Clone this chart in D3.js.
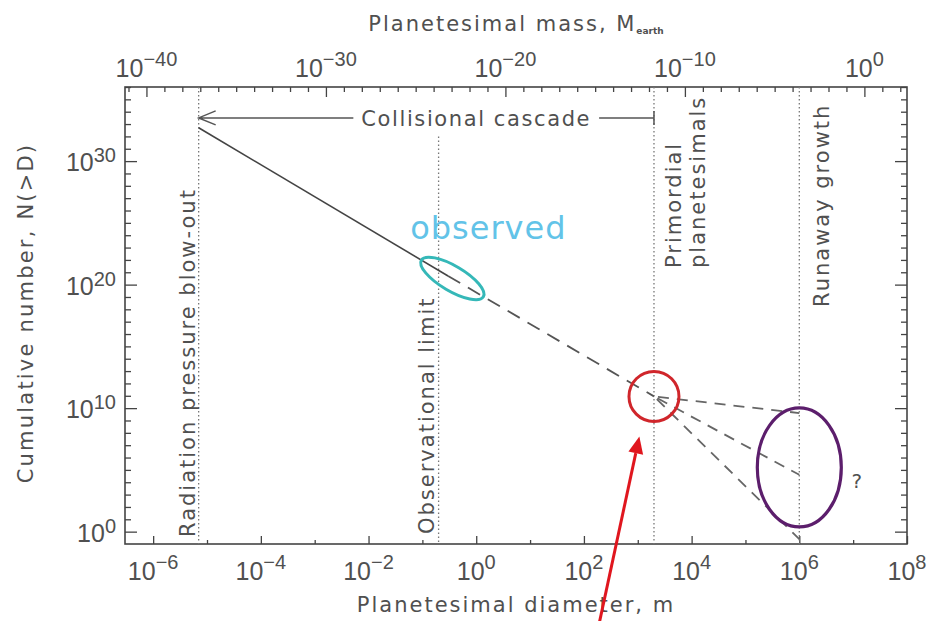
<!DOCTYPE html>
<html>
<head>
<meta charset="utf-8">
<script src="https://cdn.jsdelivr.net/npm/d3@7"></script>
<style>
  body { margin: 0; background: #fff; }
  text { font-family: "DejaVu Sans", sans-serif; fill: #505050; }
  .num { font-family: "Liberation Sans", Arial, sans-serif; }
</style>
</head>
<body>
<svg id="chart" width="930" height="621"></svg>
<script>
// ---- axis ranges and ticks ----
const diameterDomain = [3e-7, 1e8];          // m
const numberDomain = [1e-1, 1e36];           // N(>D)
const diameterMajorTicks = [1e-6, 1e-4, 1e-2, 1e0, 1e2, 1e4, 1e6, 1e8];
const diameterTickLabels = ["\u22126", "\u22124", "\u22122", "0", "2", "4", "6", "8"];
const diameterMinorTicks = [1e-5, 1e-3, 1e-1, 1e1, 1e3, 1e5, 1e7];
const numberMajorTicks = [1e0, 1e10, 1e20, 1e30];
const numberTickLabels = ["0", "10", "20", "30"];
const massMajorExponents = [-40, -30, -20, -10, 0];
const massTickLabels = ["\u221240", "\u221230", "\u221220", "\u221210", "0"];

// mass of a sphere of diameter D, in Earth masses
const planetesimalDensity = 2700;   // kg m^-3
const earthMass = 5.972e24;         // kg
const massOf = D => planetesimalDensity * Math.PI * D ** 3 / 6 / earthMass;

// ---- size distribution ----
const cascadeDiameters = [7e-6, 0.3, 2000];
const cascadeNumbers = [10 ** 32.7, 10 ** 20.7, 10 ** 10.95];
const branchDiameters = [1e6, 1e6, 1e6];
const branchNumbers = [10 ** 9.6, 10 ** 4.6, 10 ** -0.6];

// ---- characteristic sizes ----
const boundaryNames = [["Radiation pressure blow-out"], ["Observational limit"],
                       ["Primordial", "planetesimals"], ["Runaway growth"]];
const boundaryDiameters = [7e-6, 0.2, 2000, 1e6];
const boundaryTopNumbers = [1e36, 1e32, 1e36, 1e36];

// ---- annotations ----
const observedCenter = [0.36, 10 ** 20.5];
const runawayCenter = [1e6, 10 ** 5.2];
const questionPoint = [10 ** 7.07, 10 ** 3.5];
const arrowTail = [195, 10 ** -7.3];
const arrowTip = [1070, 10 ** 7.7];
const cascadeLabelDiameter = 1;
const cascadeLabelNumber = 10 ** 33.5;

const svg = d3.select("#chart");
const L = 125, R = 907, T = 87, B = 544;

const x = d3.scaleLog().domain(diameterDomain).range([L, R]);
const y = d3.scaleLog().domain(numberDomain).range([B, T]);
const xm = d3.scaleLog().domain(diameterDomain.map(massOf)).range([L, R]);

const axisColor = "#444";

function styleAxis(g) {
  g.select(".domain").remove();
  g.selectAll(".tick line").attr("stroke", axisColor).attr("stroke-width", 1.3);
  g.selectAll(".tick text").remove();
}

// bottom axis (diameter)
svg.append("g").attr("transform", `translate(0,${B})`)
  .call(d3.axisBottom(x).tickValues(diameterMajorTicks).tickSize(-8)).call(styleAxis);
svg.append("g").attr("transform", `translate(0,${B})`)
  .call(d3.axisBottom(x).tickValues(diameterMinorTicks).tickSize(-4)).call(styleAxis);

// top axis (mass)
const massMinor = d3.range(-41, 3).filter(e => e % 10 !== 0).map(e => 10 ** e);
svg.append("g").attr("transform", `translate(0,${T})`)
  .call(d3.axisTop(xm).tickValues(massMajorExponents.map(e => 10 ** e)).tickSize(-10)).call(styleAxis);
svg.append("g").attr("transform", `translate(0,${T})`)
  .call(d3.axisTop(xm).tickValues(massMinor).tickSize(-5)).call(styleAxis);

// left and right axes (number)
const numberMinor = d3.range(0, 37).filter(e => e % 10 !== 0).map(e => 10 ** e);
[[L, d3.axisLeft], [R, d3.axisRight]].forEach(([pos, ax]) => {
  svg.append("g").attr("transform", `translate(${pos},0)`)
    .call(ax(y).tickValues(numberMajorTicks).tickSize(-12)).call(styleAxis);
  svg.append("g").attr("transform", `translate(${pos},0)`)
    .call(ax(y).tickValues(numberMinor).tickSize(-6)).call(styleAxis);
});

// frame
svg.append("rect").attr("x", L).attr("y", T).attr("width", R - L).attr("height", B - T)
  .attr("fill", "none").attr("stroke", axisColor).attr("stroke-width", 1.6);

// power-of-ten labels
function powerLabel(sel, exp, big, small, raise) {
  sel.append("tspan").attr("font-size", big).text("10");
  sel.append("tspan").attr("font-size", small).attr("dy", -raise).text(exp);
}
diameterMajorTicks.forEach((v, i) => {
  svg.append("text").attr("class", "num").attr("x", x(v)).attr("y", 580)
    .attr("text-anchor", "middle").call(powerLabel, diameterTickLabels[i], 25, 20, 11);
});
massMajorExponents.forEach((e, i) => {
  svg.append("text").attr("class", "num").attr("x", xm(10 ** e)).attr("y", 77)
    .attr("text-anchor", "middle").call(powerLabel, massTickLabels[i], 25, 20, 11);
});
numberMajorTicks.forEach((v, i) => {
  svg.append("text").attr("class", "num").attr("x", 116).attr("y", y(v) + 10)
    .attr("text-anchor", "end").call(powerLabel, numberTickLabels[i], 25, 20, 9);
});

// axis titles
svg.append("text").attr("x", 516).attr("y", 612).attr("text-anchor", "middle")
  .attr("font-size", 21).attr("letter-spacing", 2).text("Planetesimal diameter, m");
const topTitle = svg.append("text").attr("x", 516).attr("y", 31).attr("text-anchor", "middle")
  .attr("font-size", 21).attr("letter-spacing", 2);
topTitle.append("tspan").text("Planetesimal mass, M");
topTitle.append("tspan").attr("font-size", 9).attr("font-weight", "bold").attr("letter-spacing", 0)
  .attr("dy", 3).text("earth");
svg.append("text").attr("transform", "translate(33,313) rotate(-90)").attr("text-anchor", "middle")
  .attr("font-size", 21).attr("letter-spacing", 2.2).text("Cumulative number, N(>D)");

// characteristic sizes: dotted verticals and their labels
// [offset of the first line's baseline from the vertical, lower end of the text]
const labelOffsets = [[-4, 537], [-5, 534], [27, 268], [30, 307]];
boundaryDiameters.forEach((d, i) => {
  svg.append("line").attr("x1", x(d)).attr("x2", x(d))
    .attr("y1", y(boundaryTopNumbers[i])).attr("y2", B)
    .attr("stroke", "#777").attr("stroke-width", 1.3).attr("stroke-dasharray", "1.5,2.5");
  const [dx, yStart] = labelOffsets[i];
  boundaryNames[i].forEach((ln, j) => {
    const bx = x(d) + dx + j * 24;
    svg.append("text").attr("transform", `translate(${bx},${yStart}) rotate(-90)`)
      .attr("font-size", 21).attr("letter-spacing", 2).text(ln);
  });
});

// collisional cascade span
const cy = y(cascadeLabelNumber);
const cText = svg.append("text").attr("x", x(cascadeLabelDiameter)).attr("y", cy + 8)
  .attr("text-anchor", "middle").attr("font-size", 21).attr("letter-spacing", 1.6)
  .text("Collisional  cascade");
const bb = cText.node().getBBox();
const xa = x(boundaryDiameters[0]), xb = x(boundaryDiameters[2]);
const spanPath = d3.path();
spanPath.moveTo(xa, cy); spanPath.lineTo(bb.x - 8, cy);
spanPath.moveTo(bb.x + bb.width + 8, cy); spanPath.lineTo(xb, cy);
spanPath.moveTo(xb, cy - 7); spanPath.lineTo(xb, cy + 7);
spanPath.moveTo(xa + 17, cy - 7); spanPath.lineTo(xa, cy); spanPath.lineTo(xa + 17, cy + 7);
svg.append("path").attr("d", spanPath.toString()).attr("fill", "none")
  .attr("stroke", "#555").attr("stroke-width", 1.5);

// size distribution
const line = d3.line().x(d => x(d[0])).y(d => y(d[1]));
const pts = cascadeDiameters.map((d, i) => [d, cascadeNumbers[i]]);
svg.append("path").attr("d", line(pts.slice(0, 2))).attr("fill", "none")
  .attr("stroke", "#444").attr("stroke-width", 1.6);
svg.append("path").attr("d", line(pts.slice(1, 3))).attr("fill", "none")
  .attr("stroke", "#555").attr("stroke-width", 1.8).attr("stroke-dasharray", "14,9");
branchDiameters.forEach((d, i) => {
  svg.append("path").attr("d", line([pts[2], [d, branchNumbers[i]]])).attr("fill", "none")
    .attr("stroke", "#666").attr("stroke-width", 1.8).attr("stroke-dasharray", "11,8")
    .attr("stroke-dashoffset", -4);
});

// observed range
const ang = Math.atan2(y(cascadeNumbers[2]) - y(cascadeNumbers[0]),
                       x(cascadeDiameters[2]) - x(cascadeDiameters[0])) * 180 / Math.PI;
svg.append("ellipse").attr("rx", 36).attr("ry", 12.5)
  .attr("transform", `translate(${x(observedCenter[0])},${y(observedCenter[1])}) rotate(${ang})`)
  .attr("fill", "none").attr("stroke", "#35b8b8").attr("stroke-width", 3);
svg.append("text").attr("x", x(observedCenter[0]) + 36).attr("y", y(observedCenter[1]) - 39)
  .attr("text-anchor", "middle").attr("font-size", 32).attr("letter-spacing", 1)
  .style("fill", "#62c3e8").text("observed");

// primordial planetesimals
svg.append("circle").attr("cx", x(cascadeDiameters[2])).attr("cy", y(cascadeNumbers[2])).attr("r", 25)
  .attr("fill", "none").attr("stroke", "#d0262b").attr("stroke-width", 3);

// runaway growth range
svg.append("ellipse").attr("cx", x(runawayCenter[0])).attr("cy", y(runawayCenter[1]))
  .attr("rx", 42).attr("ry", 59.5)
  .attr("fill", "none").attr("stroke", "#5c1e6c").attr("stroke-width", 3.2);
svg.append("text").attr("x", x(questionPoint[0])).attr("y", y(questionPoint[1]))
  .attr("text-anchor", "middle").attr("font-size", 20).text("?");

// pointer arrow
const ax0 = x(arrowTail[0]), ay0 = y(arrowTail[1]);
const ax1 = x(arrowTip[0]), ay1 = y(arrowTip[1]);
const a = Math.atan2(ay1 - ay0, ax1 - ax0);
const headLen = 17, headHalf = 7.5;
const bxh = ax1 - headLen * Math.cos(a), byh = ay1 - headLen * Math.sin(a);
svg.append("line").attr("x1", ax0).attr("y1", ay0).attr("x2", bxh).attr("y2", byh)
  .attr("stroke", "#e0161e").attr("stroke-width", 3);
svg.append("path")
  .attr("d", `M${ax1},${ay1}L${bxh + headHalf * Math.sin(a)},${byh - headHalf * Math.cos(a)}` +
             `L${bxh - headHalf * Math.sin(a)},${byh + headHalf * Math.cos(a)}Z`)
  .attr("fill", "#e0161e");
</script>
</body>
</html>
